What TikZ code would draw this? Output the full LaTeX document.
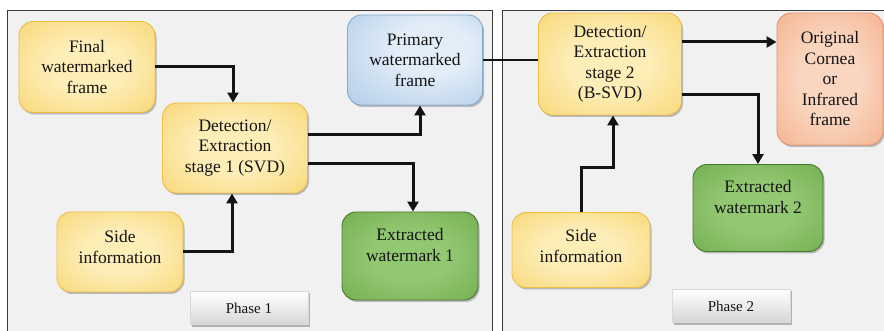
\documentclass[tikz,border=0pt]{standalone}
\usepackage{fontspec}
\setmainfont{Liberation Serif}
\usetikzlibrary{arrows.meta,shadows}

\definecolor{panelfill}{HTML}{F1F1F1}
\definecolor{panelline}{HTML}{3A3A3A}
\definecolor{yIn}{HTML}{FDEDB6}
\definecolor{yOut}{HTML}{F6CE5E}
\definecolor{yLine}{HTML}{EDBE45}
\definecolor{gIn}{HTML}{93C872}
\definecolor{gOut}{HTML}{68A444}
\definecolor{gLine}{HTML}{467A2B}
\definecolor{bIn}{HTML}{E2EDF8}
\definecolor{bOut}{HTML}{A2C2E3}
\definecolor{bLine}{HTML}{84A9D0}
\definecolor{oIn}{HTML}{FAD6C0}
\definecolor{oOut}{HTML}{F2A57B}
\definecolor{oLine}{HTML}{E6946A}
\definecolor{ink}{HTML}{141414}

% soft glows: light core, deeper rim
\pgfdeclareradialshading{yglow}{\pgfpoint{0bp}{0bp}}{color(0bp)=(yIn); color(14bp)=(yIn); color(46bp)=(yOut); color(72bp)=(yOut)}
\pgfdeclareradialshading{gglow}{\pgfpoint{0bp}{0bp}}{color(0bp)=(gIn); color(14bp)=(gIn); color(46bp)=(gOut); color(72bp)=(gOut)}
\pgfdeclareradialshading{bglow}{\pgfpoint{8bp}{8bp}}{color(0bp)=(bIn); color(14bp)=(bIn); color(50bp)=(bOut); color(72bp)=(bOut)}
\pgfdeclareradialshading{oglow}{\pgfpoint{0bp}{0bp}}{color(0bp)=(oIn); color(14bp)=(oIn); color(46bp)=(oOut); color(72bp)=(oOut)}

\tikzset{
  panel/.style={draw=panelline, line width=0.9pt, fill=panelfill},
  box/.style={rounded corners=14pt, line width=0.9pt, align=center, text=ink,
    inner sep=2pt, shade,
    font=\fontsize{17.5}{20.5}\selectfont,
    drop shadow={shadow xshift=1.5pt, shadow yshift=-2pt, opacity=0.35, fill=black!70}},
  ybox/.style={box, draw=yLine, shading=yglow},
  gbox/.style={box, draw=gLine, shading=gglow},
  bbox/.style={box, draw=bLine, shading=bglow},
  obox/.style={box, draw=oLine, shading=oglow},
  txt/.style={align=center, text=ink, inner sep=0pt, font=\fontsize{17.5}{20.5}\selectfont},
  phase/.style={draw=black!15, line width=0.5pt, top color=white, bottom color=black!16,
    text=ink, font=\fontsize{15}{18}\selectfont, minimum width=118pt, minimum height=33pt,
    drop shadow={shadow xshift=2pt, shadow yshift=-2pt, opacity=0.45, fill=black!60}},
  conn/.style={draw=ink, line width=3pt, -{Triangle[width=11pt,length=10pt]}},
  link/.style={draw=ink, line width=2.2pt}
}

\begin{document}
\begin{tikzpicture}[x=1pt,y=-1pt]
\useasboundingbox (0,0) rectangle (884,331);

% the two phase panels
\draw[panel] (7,10) rectangle (492,337);
\draw[panel] (502,10) rectangle (890,337);

% phase 1
\node[ybox, minimum width=136pt, minimum height=91pt] (fin) at (87,67) {Final\\watermarked\\frame};
\node[ybox, minimum width=145pt, minimum height=90pt] (det1) at (235,148) {Detection/\\Extraction\\stage 1 (SVD)};
\node[bbox, minimum width=135pt, minimum height=90pt] (prim) at (415,60) {Primary\\watermarked\\frame};
\node[ybox, minimum width=126pt, minimum height=80pt] (si1) at (120,252) {};
\node[txt] (si1t) at ([yshift=5pt]si1.center) {Side\\information};
\node[gbox, minimum width=136pt, minimum height=88pt] (ew1) at (410,256) {};
\node[txt] (ew1t) at ([yshift=11pt]ew1.center) {Extracted\\watermark 1};
\node[phase] (ph1) at (249,308) {Phase 1};

% phase 2
\node[ybox, minimum width=143pt, minimum height=102pt] (det2) at (610,64) {Detection/\\Extraction\\stage 2\\(B-SVD)};
\node[obox, minimum width=106pt, minimum height=132pt] (orig) at (830,79) {Original\\Cornea\\or\\Infrared\\frame};
\node[gbox, minimum width=130pt, minimum height=87pt] (ew2) at (758,208) {};
\node[txt] (ew2t) at ([yshift=11pt]ew2.center) {Extracted\\watermark 2};
\node[ybox, minimum width=138pt, minimum height=75pt] (si2) at (581,250) {};
\node[txt] (si2t) at ([yshift=4pt]si2.center) {Side\\information};
\node[phase] (ph2) at (731,306) {Phase 2};

% connectors, phase 1
\draw[conn] (fin.east) -| ([xshift=-2pt]det1.north);
\draw[conn] ([yshift=13pt]det1.east) -| ([xshift=5pt]prim.south);
\draw[conn] ([yshift=-16pt]det1.east) -| ([xshift=3pt]ew1.north);
\draw[conn] (si1.east) -| ([xshift=-3pt]det1.south);

% connectors, phase 2
\draw[link] (prim.east) -- (prim.east -| det2.west);
\coordinate (d2hi) at ([yshift=22pt]det2.east);
\draw[conn] (d2hi) -- (d2hi -| orig.west);
\draw[conn] ([yshift=-31pt]det2.east) -| (ew2.north);
\coordinate (bend2) at (613,168);
\draw[conn] (si2.north) |- (bend2) -- (bend2 |- det2.south);
\end{tikzpicture}
\end{document}
